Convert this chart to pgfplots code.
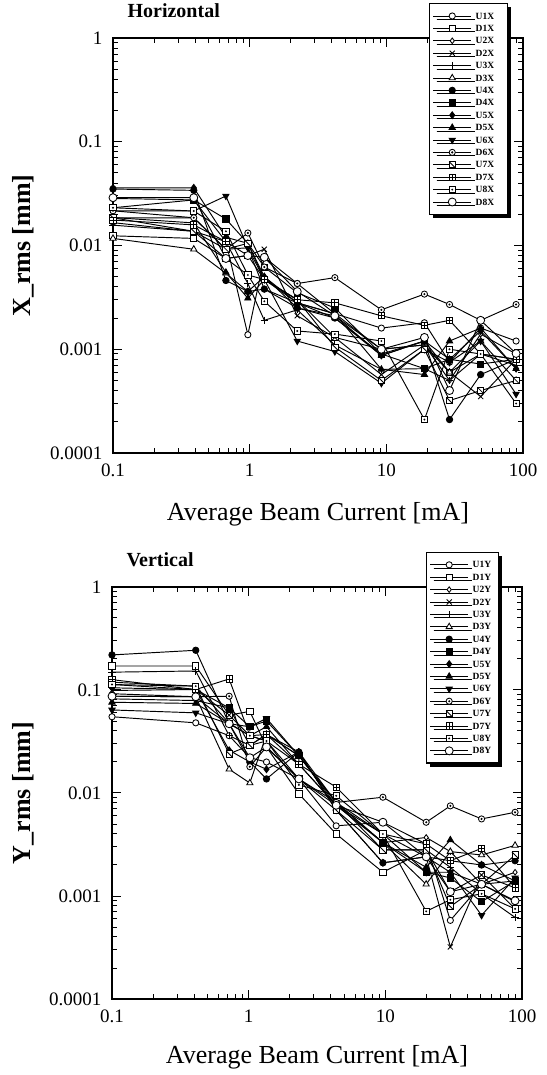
\documentclass[border=0pt]{standalone}
\usepackage{fontspec}
\setmainfont{Liberation Serif}
\usepackage{pgfplots}
\usepackage{pgfplotstable}
\pgfplotsset{compat=1.18}
\usetikzlibrary{shadows}

% extra marks used by the scan
\pgfdeclareplotmark{odot}{%
  \pgfpathcircle{\pgfpointorigin}{\pgfplotmarksize}\pgfusepathqfillstroke
  \pgfpathcircle{\pgfpointorigin}{0.18\pgfplotmarksize}\pgfusepathqstroke}
\pgfdeclareplotmark{sqdot}{%
  \pgfpathrectangle{\pgfpoint{-\pgfplotmarksize}{-\pgfplotmarksize}}{\pgfpoint{2\pgfplotmarksize}{2\pgfplotmarksize}}\pgfusepathqfillstroke
  \pgfpathcircle{\pgfpointorigin}{0.15\pgfplotmarksize}\pgfusepathqstroke}
\pgfdeclareplotmark{sqplus}{%
  \pgfpathrectangle{\pgfpoint{-\pgfplotmarksize}{-\pgfplotmarksize}}{\pgfpoint{2\pgfplotmarksize}{2\pgfplotmarksize}}\pgfusepathqfillstroke
  \pgfpathmoveto{\pgfpoint{-\pgfplotmarksize}{0pt}}\pgfpathlineto{\pgfpoint{\pgfplotmarksize}{0pt}}
  \pgfpathmoveto{\pgfpoint{0pt}{-\pgfplotmarksize}}\pgfpathlineto{\pgfpoint{0pt}{\pgfplotmarksize}}
  \pgfusepathqstroke}
\pgfdeclareplotmark{sqdiag}{%
  \pgfpathrectangle{\pgfpoint{-\pgfplotmarksize}{-\pgfplotmarksize}}{\pgfpoint{2\pgfplotmarksize}{2\pgfplotmarksize}}\pgfusepathqfillstroke
  \pgfpathmoveto{\pgfpoint{-\pgfplotmarksize}{\pgfplotmarksize}}\pgfpathlineto{\pgfpoint{\pgfplotmarksize}{-\pgfplotmarksize}}
  \pgfusepathqstroke}

\pgfplotstableread{
x     U1X     D1X    U2X    D2X     U3X     D3X     U4X     D4X     U5X     D5X     U6X     D6X    U7X     D7X    U8X     D8X
0.1   0.0284  0.0124 0.0185 0.0166  0.0157  0.0117  0.035   0.0231  0.036   0.0186  0.0216  0.0216 0.0185  0.0176 0.0231  0.0289
0.39  0.0275  0.0117 0.0185 0.0137  0.0137  0.0092  0.034   0.0275  0.036   0.0165  0.0215  0.0185 0.0137  0.0158 0.0215  0.0289
0.67  0.0109  0.0075 0.0092 0.0075  0.0109  0.0054  0.0046  0.018   0.012   0.0055  0.030   0.0092 0.0092  0.0109 0.0137  0.0075
0.97  0.00138 0.0052 0.0095 0.008   0.0043  0.0036  0.0036  0.0105  0.0105  0.0031  0.0095  0.0132 0.0105  0.0080 0.0052  0.008
1.28  0.0077  0.0047 0.0038 0.0092  0.0019  0.005   0.0038  0.0062  0.005   0.0047  0.0047  0.0062 0.0047  0.0047 0.0029  0.0077
2.23  0.0043  0.0030 0.0028 0.0021  0.0024  0.0028  0.0025  0.0035  0.0025  0.0028  0.0012  0.0043 0.003   0.0030 0.0015  0.0036
4.2   0.0022  0.0013 0.0022 0.0013  0.0011  0.002   0.002   0.0025  0.0021  0.0022  0.00095 0.0049 0.00105 0.0028 0.0014  0.0021
9.2   0.0016  0.0010 0.001  0.00057 0.00064 0.00087 0.0009  0.0009  0.00087 0.00064 0.00047 0.0024 0.0005  0.0021 0.0012  0.0010
19    0.0018  0.0011 0.0011 0.0011  0.00065 0.0012  0.0012  0.00065 0.0012  0.00057 0.001   0.0034 0.001   0.0017 0.00021 0.0013
29    0.00075 0.0006 0.0005 0.0006  0.0005  0.0006  0.00021 0.0008  0.0008  0.0012  0.00075 0.0027 0.00032 0.0019 0.001   0.0004
49    0.0016  0.0009 0.0014 0.00035 0.0009  0.0012  0.00057 0.00072 0.0015  0.0016  0.0012  0.0019 0.0004  0.0009 0.0009  0.0019
89    0.0012  0.0008 0.0009 0.0008  0.0007  0.0005  0.0008  0.0008  0.00065 0.00065 0.00037 0.0027 0.0005  0.0008 0.0003  0.00091
}\tabX

\pgfplotstableread{
x     U1Y     D1Y     U2Y    D2Y     U3Y     D3Y    U4Y    D4Y     U5Y    D5Y    U6Y     D6Y    U7Y     D7Y    U8Y     D8Y
0.1   0.055   0.171   0.082  0.099   0.149   0.092  0.219  0.113   0.105  0.076  0.064   0.087  0.119   0.126  0.113   0.087
0.41  0.048   0.171   0.079  0.101   0.153   0.086  0.243  0.101   0.101  0.074  0.06    0.086  0.109   0.101  0.109   0.086
0.72  0.036   0.057   0.067  0.057   0.036   0.017  0.047  0.067   0.026  0.047  0.047   0.087  0.024   0.128  0.0476  0.047
1.02  0.022   0.062   0.029  0.036   0.029   0.0125 0.02   0.044   0.02   0.036  0.044   0.018  0.029   0.036  0.036   0.022
1.35  0.02    0.028   0.037  0.032   0.037   0.037  0.0137 0.05    0.017  0.044  0.053   0.028  0.032   0.037  0.032   0.028
2.33  0.0137  0.0098  0.023  0.019   0.025   0.023  0.025  0.023   0.025  0.019  0.023   0.0137 0.0137  0.019  0.012   0.0137
4.37  0.0048  0.004   0.0081 0.0076  0.0081  0.0081 0.0068 0.0076  0.0068 0.0076 0.0081  0.0081 0.0068  0.0114 0.0094  0.0076
9.6   0.0052  0.0017  0.0033 0.004   0.0028  0.0033 0.0021 0.0033  0.0021 0.0033 0.004   0.0091 0.0028  0.004  0.004   0.0052
19.9  0.0032  0.0028  0.0037 0.0024  0.0028  0.0013 0.0024 0.0017  0.0024 0.0019 0.0017  0.0052 0.0028  0.0032 0.00071 0.0024
29.9  0.00058 0.0011  0.0027 0.00032 0.0019  0.0027 0.0022 0.0015  0.0017 0.0035 0.0017  0.0075 0.00079 0.0022 0.00092 0.0011
50.6  0.0013  0.0016  0.0013 0.0016  0.00105 0.0025 0.002  0.00088 0.0013 0.002  0.00065 0.0056 0.0013  0.0029 0.00105 0.0013
89    0.00088 0.00075 0.0017 0.0012  0.00062 0.0031 0.0022 0.0014  0.0014 0.0014 0.0015  0.0065 0.0025  0.0012 0.00075 0.0009
}\tabY

\tikzset{
  bpmline/.style={black, solid, line width=0.95pt, mark size=3.1pt,
    mark options={solid, line width=0.85pt, fill=white}},
  bpmfill/.style={every mark/.append style={fill=black}},
}

\begin{document}
\begin{tikzpicture}
\path[use as bounding box] (0,0) rectangle (546pt,1075pt);

\begin{axis}[at={(113pt,622pt)}, anchor=south west,
  xmode=log, ymode=log, scale only axis, width=410pt, height=415pt,
  xmin=0.1, xmax=100, ymin=0.0001, ymax=1,
  xtick={0.1,1,10,100}, xticklabels={0.1,1,10,100},
  ytick={0.0001,0.001,0.01,0.1,1}, yticklabels={0.0001,0.001,0.01,0.1,1},
  minor xtick={0.2,0.3,0.4,0.5,0.6,0.7,0.8,0.9,2,3,4,5,6,7,8,9,20,30,40,50,60,70,80,90},
  minor ytick={0.0002,0.0003,0.0004,0.0005,0.0006,0.0007,0.0008,0.0009,
    0.002,0.003,0.004,0.005,0.006,0.007,0.008,0.009,
    0.02,0.03,0.04,0.05,0.06,0.07,0.08,0.09,0.2,0.3,0.4,0.5,0.6,0.7,0.8,0.9},
  major tick length=9pt, minor tick length=5pt,
  axis line style={line width=1.6pt},
  tick style={line width=1pt, black},
  tick label style={font=\fontsize{19}{19}\selectfont},
  xticklabel style={yshift=-7pt},
  yticklabel style={xshift=-7pt},
  title={Horizontal},
  title style={font=\bfseries\fontsize{20}{20}\selectfont,
    at={(axis description cs:0.027,1.034)}, anchor=base west},
  xlabel={Average Beam Current [mA]},
  ylabel={X\_rms [mm]},
  xlabel style={font=\fontsize{26}{26}\selectfont, at={(axis description cs:0.5,-0.147)}, anchor=center},
  ylabel style={font=\bfseries\fontsize{26}{26}\selectfont, at={(axis description cs:-0.22,0.5)}, anchor=center},
  legend cell align=left,
  legend image code/.code={\draw[mark repeat=2,mark phase=2]
    plot coordinates {(0pt,0pt)(19pt,0pt)(38pt,0pt)};},
  legend style={at={(0.771,1.084)}, anchor=north west, draw=black, line width=1.3pt, fill=white,
    drop shadow={shadow xshift=3.5pt, shadow yshift=-3.5pt, fill=black, opacity=1},
    font=\bfseries\fontsize{9.5}{9.5}\selectfont,
    inner xsep=3pt, inner ysep=6pt, row sep=0pt, column sep=4pt,
    nodes={inner xsep=0pt, inner ysep=0pt, text height=9.3pt, text depth=3.1pt, text width=29pt}},
]
\addplot[bpmline, mark=*] table[x=x,y=U1X] {\tabX}; \addlegendentry{U1X}
\addplot[bpmline, mark=square*] table[x=x,y=D1X] {\tabX}; \addlegendentry{D1X}
\addplot[bpmline, mark=diamond*, mark size=2.8pt] table[x=x,y=U2X] {\tabX}; \addlegendentry{U2X}
\addplot[bpmline, mark=x, mark size=3.6pt] table[x=x,y=D2X] {\tabX}; \addlegendentry{D2X}
\addplot[bpmline, mark=+, mark size=3.6pt] table[x=x,y=U3X] {\tabX}; \addlegendentry{U3X}
\addplot[bpmline, mark=triangle*, mark size=3.6pt] table[x=x,y=D3X] {\tabX}; \addlegendentry{D3X}
\addplot[bpmline, bpmfill, mark=*, mark size=3.2pt] table[x=x,y=U4X] {\tabX}; \addlegendentry{U4X}
\addplot[bpmline, bpmfill, mark=square*] table[x=x,y=D4X] {\tabX}; \addlegendentry{D4X}
\addplot[bpmline, bpmfill, mark=diamond*, mark size=3.4pt] table[x=x,y=U5X] {\tabX}; \addlegendentry{U5X}
\addplot[bpmline, bpmfill, mark=triangle*, mark size=3.6pt] table[x=x,y=D5X] {\tabX}; \addlegendentry{D5X}
\addplot[bpmline, mark=triangle*, mark size=3.6pt,
  every mark/.append style={fill=black, rotate=180}] table[x=x,y=U6X] {\tabX}; \addlegendentry{U6X}
\addplot[bpmline, mark=odot] table[x=x,y=D6X] {\tabX}; \addlegendentry{D6X}
\addplot[bpmline, mark=sqdiag] table[x=x,y=U7X] {\tabX}; \addlegendentry{U7X}
\addplot[bpmline, mark=sqplus] table[x=x,y=D7X] {\tabX}; \addlegendentry{D7X}
\addplot[bpmline, mark=sqdot] table[x=x,y=U8X] {\tabX}; \addlegendentry{U8X}
\addplot[bpmline, mark=*, mark size=4pt] table[x=x,y=D8X] {\tabX}; \addlegendentry{D8X}
\end{axis}

\begin{axis}[at={(112pt,76pt)}, anchor=south west,
  xmode=log, ymode=log, scale only axis, width=410pt, height=412pt,
  xmin=0.1, xmax=100, ymin=0.0001, ymax=1,
  xtick={0.1,1,10,100}, xticklabels={0.1,1,10,100},
  ytick={0.0001,0.001,0.01,0.1,1}, yticklabels={0.0001,0.001,0.01,0.1,1},
  minor xtick={0.2,0.3,0.4,0.5,0.6,0.7,0.8,0.9,2,3,4,5,6,7,8,9,20,30,40,50,60,70,80,90},
  minor ytick={0.0002,0.0003,0.0004,0.0005,0.0006,0.0007,0.0008,0.0009,
    0.002,0.003,0.004,0.005,0.006,0.007,0.008,0.009,
    0.02,0.03,0.04,0.05,0.06,0.07,0.08,0.09,0.2,0.3,0.4,0.5,0.6,0.7,0.8,0.9},
  major tick length=9pt, minor tick length=5pt,
  axis line style={line width=1.6pt},
  tick style={line width=1pt, black},
  tick label style={font=\fontsize{19}{19}\selectfont},
  xticklabel style={yshift=-7pt},
  yticklabel style={xshift=-7pt},
  title={Vertical},
  title style={font=\bfseries\fontsize{20}{20}\selectfont,
    at={(axis description cs:0.027,1.034)}, anchor=base west},
  xlabel={Average Beam Current [mA]},
  ylabel={Y\_rms [mm]},
  xlabel style={font=\fontsize{26}{26}\selectfont, at={(axis description cs:0.5,-0.141)}, anchor=center},
  ylabel style={font=\bfseries\fontsize{26}{26}\selectfont, at={(axis description cs:-0.217,0.5)}, anchor=center},
  legend cell align=left,
  legend image code/.code={\draw[mark repeat=2,mark phase=2]
    plot coordinates {(0pt,0pt)(19pt,0pt)(38pt,0pt)};},
  legend style={at={(0.766,1.085)}, anchor=north west, draw=black, line width=1.3pt, fill=white,
    drop shadow={shadow xshift=3.5pt, shadow yshift=-3.5pt, fill=black, opacity=1},
    font=\bfseries\fontsize{9.5}{9.5}\selectfont,
    inner xsep=3pt, inner ysep=6pt, row sep=0pt, column sep=4pt,
    nodes={inner xsep=0pt, inner ysep=0pt, text height=9.3pt, text depth=3.1pt, text width=23pt}},
]
\addplot[bpmline, mark=*] table[x=x,y=U1Y] {\tabY}; \addlegendentry{U1Y}
\addplot[bpmline, mark=square*] table[x=x,y=D1Y] {\tabY}; \addlegendentry{D1Y}
\addplot[bpmline, mark=diamond*, mark size=2.8pt] table[x=x,y=U2Y] {\tabY}; \addlegendentry{U2Y}
\addplot[bpmline, mark=x, mark size=3.6pt] table[x=x,y=D2Y] {\tabY}; \addlegendentry{D2Y}
\addplot[bpmline, mark=+, mark size=3.6pt] table[x=x,y=U3Y] {\tabY}; \addlegendentry{U3Y}
\addplot[bpmline, mark=triangle*, mark size=3.6pt] table[x=x,y=D3Y] {\tabY}; \addlegendentry{D3Y}
\addplot[bpmline, bpmfill, mark=*, mark size=3.2pt] table[x=x,y=U4Y] {\tabY}; \addlegendentry{U4Y}
\addplot[bpmline, bpmfill, mark=square*] table[x=x,y=D4Y] {\tabY}; \addlegendentry{D4Y}
\addplot[bpmline, bpmfill, mark=diamond*, mark size=3.4pt] table[x=x,y=U5Y] {\tabY}; \addlegendentry{U5Y}
\addplot[bpmline, bpmfill, mark=triangle*, mark size=3.6pt] table[x=x,y=D5Y] {\tabY}; \addlegendentry{D5Y}
\addplot[bpmline, mark=triangle*, mark size=3.6pt,
  every mark/.append style={fill=black, rotate=180}] table[x=x,y=U6Y] {\tabY}; \addlegendentry{U6Y}
\addplot[bpmline, mark=odot] table[x=x,y=D6Y] {\tabY}; \addlegendentry{D6Y}
\addplot[bpmline, mark=sqdiag] table[x=x,y=U7Y] {\tabY}; \addlegendentry{U7Y}
\addplot[bpmline, mark=sqplus] table[x=x,y=D7Y] {\tabY}; \addlegendentry{D7Y}
\addplot[bpmline, mark=sqdot] table[x=x,y=U8Y] {\tabY}; \addlegendentry{U8Y}
\addplot[bpmline, mark=*, mark size=4pt] table[x=x,y=D8Y] {\tabY}; \addlegendentry{D8Y}
\end{axis}
\end{tikzpicture}
\end{document}
